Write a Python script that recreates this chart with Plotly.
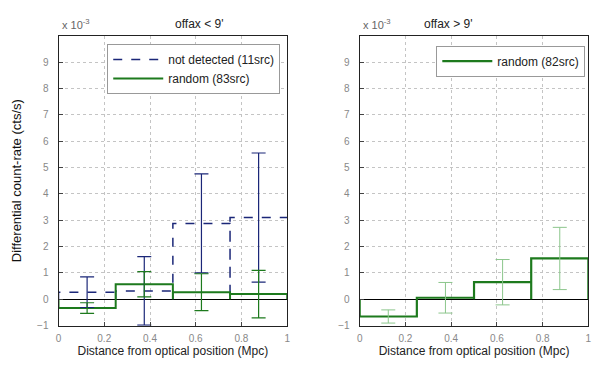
import plotly.graph_objects as go

# bin edges (Mpc) and bin centres
edges = [0.0, 0.25, 0.5, 0.75, 1.0]
centres = [0.125, 0.375, 0.625, 0.875]

# offax < 9'  (values in units of 1e-3 cts/s)
notdet = [0.27, 0.32, 2.88, 3.10]
notdet_err = [0.58, 1.30, 1.88, 2.45]
rand_in = [-0.33, 0.57, 0.27, 0.20]
rand_in_err = [0.20, 0.48, 0.70, 0.90]

# offax > 9'
rand_out = [-0.65, 0.06, 0.65, 1.55]
rand_out_err = [0.25, 0.58, 0.86, 1.18]

yticks = [-1, 0, 1, 2, 3, 4, 5, 6, 7, 8, 9]
xticks = [0, 0.2, 0.4, 0.6, 0.8, 1]

NAVY = "#1b2778"
GREEN = "#1d7a1d"
LIGHTGREEN = "#8cc68c"
FONT = "Liberation Sans"


def outline(vals, close=True):
    # bar outlines drawn from zero, like the histogram in the original
    xs, ys = [], []
    for i, v in enumerate(vals):
        xs += [edges[i], edges[i], edges[i + 1]]
        ys += [0, v, v]
        if close or i < len(vals) - 1:
            xs.append(edges[i + 1])
            ys.append(0)
    return xs, ys


fig = go.Figure()

x, y = outline(notdet, close=False)
fig.add_trace(go.Scatter(x=x, y=y, mode="lines", name="not detected (11src)",
                         line=dict(color=NAVY, width=1.5, dash="dash"),
                         xaxis="x", yaxis="y", legend="legend"))
x, y = outline(rand_in)
fig.add_trace(go.Scatter(x=x, y=y, mode="lines", name="random (83src)",
                         line=dict(color=GREEN, width=2),
                         xaxis="x", yaxis="y", legend="legend"))
fig.add_trace(go.Scatter(x=centres, y=notdet, mode="markers", showlegend=False,
                         marker=dict(size=0.1, color=NAVY),
                         error_y=dict(type="data", array=notdet_err, color=NAVY,
                                      thickness=1.2, width=7),
                         xaxis="x", yaxis="y"))
fig.add_trace(go.Scatter(x=centres, y=rand_in, mode="markers", showlegend=False,
                         marker=dict(size=0.1, color=GREEN),
                         error_y=dict(type="data", array=rand_in_err, color=GREEN,
                                      thickness=1.2, width=7),
                         xaxis="x", yaxis="y"))

x, y = outline(rand_out)
fig.add_trace(go.Scatter(x=x, y=y, mode="lines", name="random (82src)",
                         line=dict(color=GREEN, width=2.2),
                         xaxis="x2", yaxis="y2", legend="legend2"))
fig.add_trace(go.Scatter(x=centres, y=rand_out, mode="markers", showlegend=False,
                         marker=dict(size=0.1, color=LIGHTGREEN),
                         error_y=dict(type="data", array=rand_out_err, color=LIGHTGREEN,
                                      thickness=1, width=7),
                         xaxis="x2", yaxis="y2"))

ax_common = dict(showline=True, linecolor="#222", linewidth=1, mirror=True,
                 ticks="inside", ticklen=4, tickcolor="#444", layer="above traces",
                 showgrid=True, gridcolor="#c4c4c4", griddash="dot", gridwidth=1,
                 tickfont=dict(family=FONT, size=10, color="#888"))
xax = dict(ax_common, range=[0, 1], tickvals=xticks,
           ticktext=["0", "0.2", "0.4", "0.6", "0.8", "1"], zeroline=False,
           ticklabelstandoff=3,
           title=dict(text="Distance from optical position (Mpc)",
                      font=dict(family=FONT, size=12, color="#222"), standoff=3))
yax = dict(ax_common, range=[-1, 10], tickvals=yticks, ticklabelstandoff=7,
           zeroline=True, zerolinecolor="#000", zerolinewidth=1)

fig.update_layout(
    width=600, height=365,
    margin=dict(l=0, r=0, t=0, b=0),
    paper_bgcolor="white", plot_bgcolor="white",
    font=dict(family=FONT, size=11, color="#222"),
    xaxis=dict(xax, domain=[0.08, 0.465], anchor="y"),
    yaxis=dict(yax, domain=[0.115, 0.923], anchor="x",
               title=dict(text="Differential count-rate (cts/s)",
                          font=dict(family=FONT, size=13, color="#111"), standoff=12)),
    xaxis2=dict(xax, domain=[0.587, 0.972], anchor="y2"),
    yaxis2=dict(yax, domain=[0.115, 0.923], anchor="x2"),
    legend=dict(x=0.162, y=0.9, xanchor="left", yanchor="top",
                bgcolor="white", bordercolor="#999", borderwidth=1,
                font=dict(family=FONT, size=12, color="#222"),
                tracegroupgap=0, itemwidth=50),
    legend2=dict(x=0.716, y=0.895, xanchor="left", yanchor="top",
                 bgcolor="white", bordercolor="#999", borderwidth=1,
                 font=dict(family=FONT, size=12, color="#222"), itemwidth=50),
    annotations=[
        dict(text="offax < 9'", x=0.272, y=0.98, xref="paper", yref="paper",
             showarrow=False, yanchor="top", font=dict(family=FONT, size=12, color="#222")),
        dict(text="offax > 9'", x=0.78, y=0.98, xref="paper", yref="paper",
             showarrow=False, yanchor="top", font=dict(family=FONT, size=12, color="#222")),
        dict(text="x 10<sup>-3</sup>", x=0.082, y=0.93, xref="paper", yref="paper",
             showarrow=False, xanchor="left", yanchor="bottom",
             font=dict(family=FONT, size=11, color="#666")),
        dict(text="x 10<sup>-3</sup>", x=0.59, y=0.93, xref="paper", yref="paper",
             showarrow=False, xanchor="left", yanchor="bottom",
             font=dict(family=FONT, size=11, color="#666")),
    ],
)

fig.write_html("out.html")
